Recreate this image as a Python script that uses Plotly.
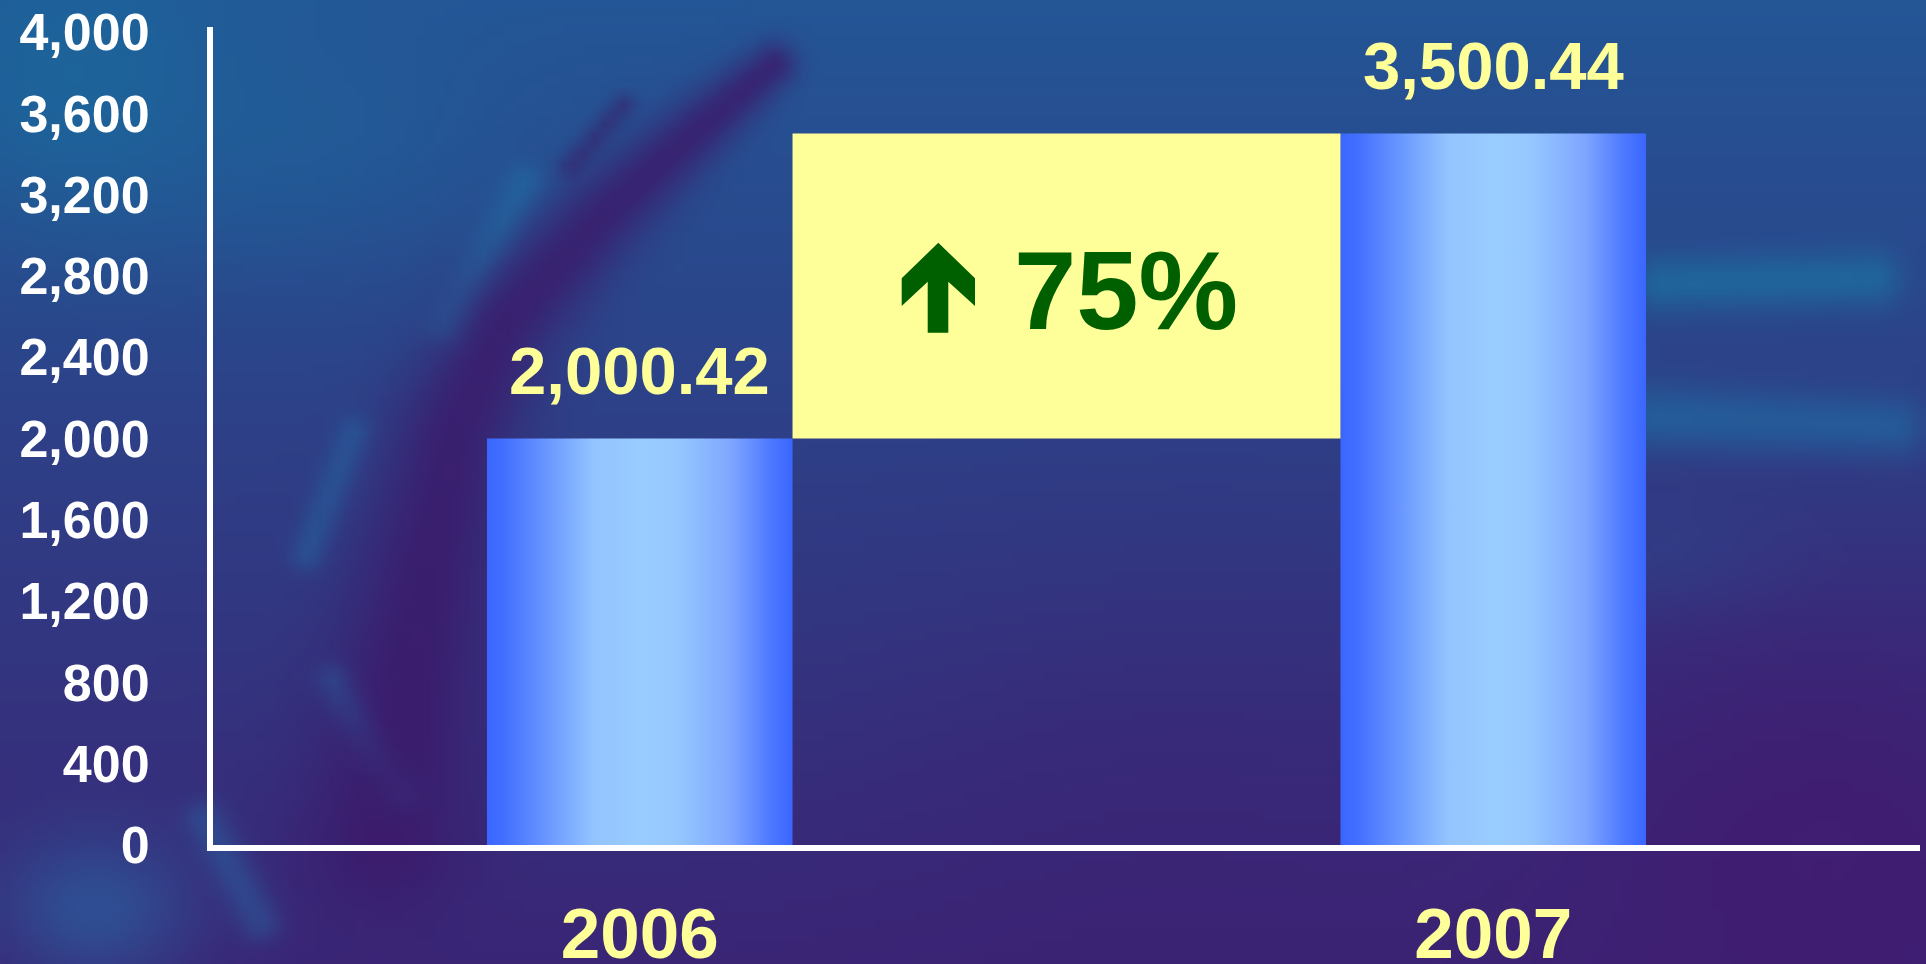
import base64, struct, zlib
import numpy as np
import plotly.graph_objects as go

# ---------------- data ----------------
years = ["2006", "2007"]
values = [2000.42, 3500.44]
y_ticks = list(range(0, 4001, 400))

# ---------------- geometry ----------------
W, H = 1926, 964
ML, MR, MT, MB = 213, 6, 27, 119
PW, PH = W - ML - MR, H - MT - MB
BAR_W = 0.358
Y_MAX = 4025

def to_paper(px, py):
    return (px - ML) / PW, (H - MB - py) / PH

# ---------------- background texture (decorative) ----------------
def make_bg():
    w, h = 193, 97
    yy, xx = np.mgrid[0:h, 0:w].astype(float)
    t = yy / (h - 1)
    top = np.array([36, 86, 150.0])
    bot = np.array([58, 38, 118.0])
    img = top[None, None, :] * (1 - t[..., None]) + bot[None, None, :] * t[..., None]

    def blob(cx, cy, r, col, strength=1.0, sx=1.0, sy=1.0):
        nonlocal img
        d2 = ((xx - cx / 10) / sx) ** 2 + ((yy - cy / 10) / sy) ** 2
        wgt = strength * np.exp(-d2 / (2 * (r / 10) ** 2))
        img = img * (1 - wgt[..., None]) + np.array(col, float)[None, None, :] * wgt[..., None]

    def band(ctrl, col, strength):
        nonlocal img
        mask = np.zeros((h, w))
        for (x0, y0, r0), (x1, y1, r1) in zip(ctrl[:-1], ctrl[1:]):
            n = int(max(abs(x1 - x0), abs(y1 - y0)) / 8) + 1
            for k in range(n):
                f = k / n
                cx, cy, r = x0 + (x1 - x0) * f, y0 + (y1 - y0) * f, r0 + (r1 - r0) * f
                d2 = (xx - cx / 10) ** 2 + (yy - cy / 10) ** 2
                mask = np.maximum(mask, np.exp(-d2 / (2 * (r / 10) ** 2)))
        wgt = strength * mask
        img = img * (1 - wgt[..., None]) + np.array(col, float)[None, None, :] * wgt[..., None]

    blob(70, 80, 110, (26, 108, 158), 0.7)
    blob(300, 140, 90, (30, 100, 155), 0.5, sx=1.5)
    # teal streaks left of the swirl
    band([(520, 180, 14), (440, 330, 14)], (32, 112, 166), 0.6)
    band([(350, 430, 12), (300, 560, 12)], (35, 108, 166), 0.5)
    band([(330, 680, 12), (400, 800, 14)], (35, 112, 170), 0.55)
    # dark swirl band
    band([(770, 60, 16), (700, 120, 22), (600, 210, 30), (500, 320, 38),
          (450, 430, 44), (425, 560, 50), (400, 700, 54), (380, 840, 58)],
         (62, 22, 104), 0.75)
    band([(620, 100, 8), (560, 170, 8)], (60, 24, 100), 0.5)
    # right side teal streaks
    band([(1660, 280, 20), (1880, 275, 20)], (28, 112, 162), 0.75)
    band([(1650, 415, 24), (1900, 425, 22)], (30, 110, 165), 0.7)
    blob(1650, 560, 40, (40, 90, 155), 0.35, sx=2.5)
    # purple lower right and bottom
    blob(1820, 820, 190, (68, 24, 110), 0.7, sx=1.3)
    blob(1150, 900, 220, (62, 32, 114), 0.45)
    blob(90, 910, 55, (40, 110, 170), 0.55, sx=1.3)
    band([(200, 820, 14), (260, 930, 14)], (40, 105, 165), 0.45)
    img = np.clip(img, 0, 255).astype(np.uint8)

    raw = b"".join(b"\x00" + img[r].tobytes() for r in range(h))
    def chunk(tag, data):
        c = struct.pack(">I", len(data)) + tag + data
        return c + struct.pack(">I", zlib.crc32(tag + data) & 0xFFFFFFFF)
    png = b"\x89PNG\r\n\x1a\n" + chunk(b"IHDR", struct.pack(">IIBBBBB", w, h, 8, 2, 0, 0, 0)) \
        + chunk(b"IDAT", zlib.compress(raw, 9)) + chunk(b"IEND", b"")
    return "data:image/png;base64," + base64.b64encode(png).decode()

# ---------------- figure ----------------
fig = go.Figure()

bar_scale = [[0, "#3A66FF"], [0.06, "#4470FF"], [0.2, "#6A98FF"], [0.35, "#93C4FF"],
             [0.5, "#99CCFF"], [0.62, "#96C8FF"], [0.8, "#7FA6FF"], [0.93, "#4C78FF"], [1, "#3A66FF"]]

for i, v in enumerate(values):
    x0, x1 = i - BAR_W / 2, i + BAR_W / 2
    fig.add_trace(go.Scatter(
        x=[x0, x1, x1, x0, x0], y=[0, 0, v, v, 0],
        mode="lines", fill="toself",
        line=dict(width=0, color="rgba(0,0,0,0)"),
        fillgradient=dict(type="horizontal", colorscale=bar_scale),
        hoverinfo="skip", showlegend=False,
    ))

# yellow box spanning the increase between the two bars
gx0, gx1 = 0 + BAR_W / 2, 1 - BAR_W / 2
fig.add_trace(go.Scatter(
    x=[gx0, gx1, gx1, gx0, gx0], y=[values[0], values[0], values[1], values[1], values[0]],
    mode="lines", fill="toself", fillcolor="#FFFF99",
    line=dict(width=0, color="rgba(0,0,0,0)"),
    hoverinfo="skip", showlegend=False,
))

FONT = "Liberation Sans, Arial, sans-serif"

for i, v in enumerate(values):
    fig.add_annotation(x=i, y=v, text=f"{v:,.2f}", showarrow=False,
                       yanchor="middle", yshift=68,
                       font=dict(family=FONT, size=67, color="#FFFF99", weight="bold"))

pct = (values[1] / values[0] - 1) * 100
fig.add_annotation(x=0.5, y=(values[0] + values[1]) / 2, text=f"{pct:.0f}%", showarrow=False,
                   xanchor="center", yanchor="middle", xshift=59, yshift=-4,
                   font=dict(family=FONT, size=112, color="#006000", weight="bold"))

# up arrow glyph (decoration) in pixel space
arrow_px = [(938.3, 242.7), (975, 278.3), (975, 306), (948.3, 281.7), (948.3, 332.7),
            (927.7, 332.7), (927.7, 281.7), (901.7, 306), (901.7, 278.3)]
pts = [to_paper(px, py) for px, py in arrow_px]
path = "M " + " L ".join(f"{a:.5f},{b:.5f}" for a, b in pts) + " Z"
fig.add_shape(type="path", path=path, xref="paper", yref="paper",
              fillcolor="#006000", line=dict(width=0))

fig.add_layout_image(dict(
    source=make_bg(), xref="paper", yref="paper",
    x=-ML / PW, y=1 + MT / PH, sizex=W / PW, sizey=H / PH,
    xanchor="left", yanchor="top", sizing="stretch", layer="below",
))

fig.update_layout(
    width=W, height=H,
    margin=dict(l=ML, r=MR, t=MT, b=MB, pad=0, autoexpand=False),
    paper_bgcolor="#31428A", plot_bgcolor="rgba(0,0,0,0)",
    showlegend=False,
    xaxis=dict(range=[-0.5, 1.5], tickvals=list(range(len(years))), ticktext=years,
               showgrid=False, zeroline=False, showline=True, linecolor="white", linewidth=6,
               ticks="", ticklabelstandoff=22, automargin=False,
               tickfont=dict(family=FONT, size=71, color="#FFFF99", weight="bold"),
               fixedrange=True),
    yaxis=dict(range=[0, Y_MAX], tickvals=y_ticks, tickformat=",d",
               showgrid=False, zeroline=False, showline=True, linecolor="white", linewidth=6,
               ticks="", ticklabelstandoff=47, automargin=False,
               tickfont=dict(family=FONT, size=52, color="white", weight="bold"),
               fixedrange=True),
)

fig.write_html("out.html", config={"displayModeBar": False},
               post_script="document.body.style.margin='0';document.body.style.overflow='hidden';")
